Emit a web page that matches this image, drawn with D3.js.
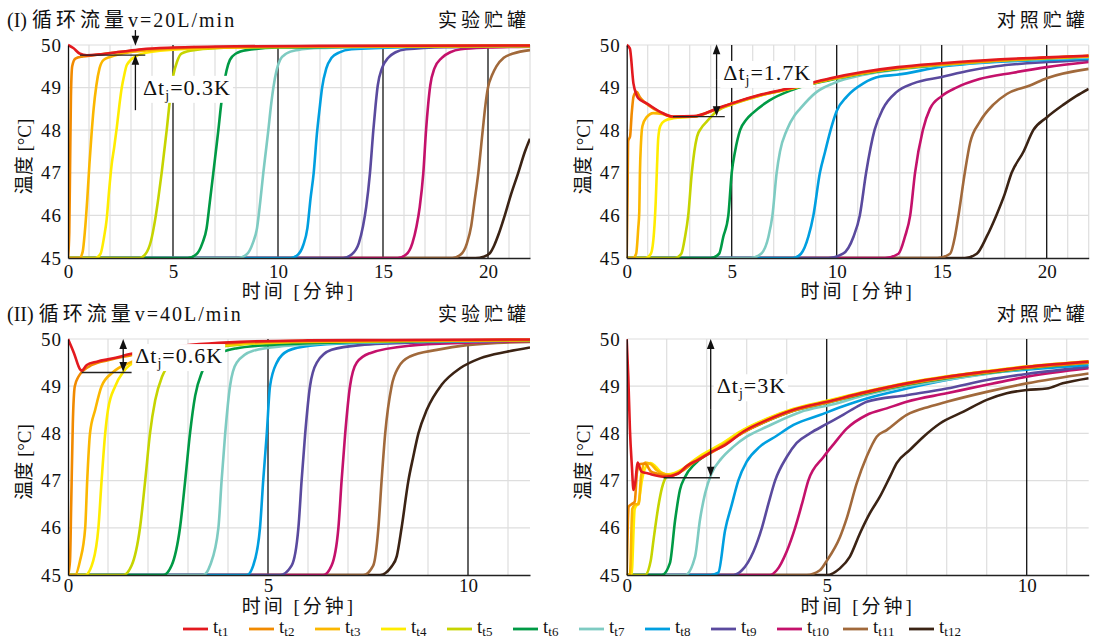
<!DOCTYPE html>
<html>
<head>
<meta charset="utf-8">
<script src="https://cdn.jsdelivr.net/npm/d3@7/dist/d3.min.js"></script>
<style>
body { margin: 0; background: #fff; }
svg text { font-family: "Liberation Serif", "DejaVu Serif", "Times New Roman", serif, "Noto Sans CJK SC"; fill: #111; }
</style>
</head>
<body>
<svg id="chart" width="1094" height="639"></svg>
<script>
// series names + colours (legend order)
const seriesNames = ["t1", "t2", "t3", "t4", "t5", "t6", "t7", "t8", "t9", "t10", "t11", "t12"]
const seriesColors = ["#e3191f", "#f18a00", "#fbb700", "#ffec00", "#c6d400", "#009a45", "#7ecbc2",
    "#009fe0", "#5a4a9e", "#c4116b", "#a1693b", "#3b2314"]

const yTickValues = [45, 46, 47, 48, 49, 50]
const xTicksLong = [0, 5, 10, 15, 20]
const xTicksShort = [0, 5, 10]

// (I) v=20L/min, experiment tank  [minute, degC]
const expTank20 = [
    [[0,50],[0.25,49.93],[0.55,49.8],[0.9,49.76],[1.5,49.78],[2.5,49.84],[3.5,49.9],[5,49.94],[8,49.97],[12,49.98],[22,49.99]],
    [[0,45],[0.06,45.6],[0.1,47.2],[0.14,48.8],[0.2,49.5],[0.35,49.68],[0.7,49.73],[1.2,49.76],[2,49.81],[3.5,49.89],[6,49.94],[12,49.97],[22,49.98]],
    [[0,45],[0.55,45],[0.7,45.15],[0.8,45.6],[0.92,46.4],[1.02,47.2],[1.12,47.9],[1.22,48.5],[1.35,49.05],[1.5,49.45],[1.7,49.65],[2,49.72],[2.6,49.8],[4,49.88],[7,49.94],[12,49.97],[22,49.98]],
    [[0,45],[1.3,45],[1.55,45.1],[1.72,45.5],[1.84,45.9],[1.96,46.6],[2.08,47.2],[2.2,47.6],[2.32,48.05],[2.45,48.6],[2.56,49],[2.68,49.3],[2.8,49.53],[3.2,49.73],[4,49.84],[6,49.92],[10,49.96],[22,49.98]],
    [[0,45],[3.4,45],[3.7,45.1],[3.95,45.4],[4.15,45.9],[4.3,46.4],[4.46,47],[4.58,47.5],[4.7,48],[4.85,48.7],[5.02,49.3],[5.2,49.62],[5.4,49.8],[6,49.88],[8,49.94],[12,49.96],[22,49.98]],
    [[0,45],[5.7,45],[6.1,45.08],[6.4,45.35],[6.6,45.7],[6.75,46.3],[6.92,47],[7.04,47.5],[7.16,48],[7.28,48.55],[7.4,49],[7.55,49.4],[7.71,49.65],[8,49.8],[8.5,49.88],[10,49.94],[14,49.96],[22,49.98]],
    [[0,45],[8.1,45],[8.5,45.08],[8.8,45.35],[9,45.7],[9.15,46.3],[9.3,47],[9.42,47.5],[9.54,48],[9.66,48.55],[9.78,49],[9.93,49.4],[10.1,49.65],[10.4,49.8],[10.9,49.88],[12,49.93],[16,49.96],[22,49.98]],
    [[0,45],[10.6,45],[10.95,45.08],[11.2,45.3],[11.4,45.7],[11.55,46.4],[11.7,47],[11.85,47.9],[11.98,48.5],[12.1,49],[12.3,49.45],[12.55,49.7],[12.9,49.82],[13.5,49.9],[16,49.95],[22,49.98]],
    [[0,45],[13.1,45],[13.5,45.08],[13.85,45.35],[14.05,45.75],[14.2,46.2],[14.38,47],[14.54,48],[14.65,48.6],[14.75,49.05],[14.95,49.45],[15.25,49.7],[15.6,49.83],[16.1,49.9],[18,49.95],[22,49.97]],
    [[0,45],[15.7,45],[16.1,45.08],[16.4,45.35],[16.6,45.75],[16.75,46.2],[16.92,47],[17.05,48],[17.15,48.6],[17.25,49.05],[17.45,49.45],[17.8,49.7],[18.2,49.83],[18.7,49.9],[20,49.94],[22,49.96]],
    [[0,45],[18.3,45],[18.7,45.08],[19,45.35],[19.2,45.75],[19.35,46.3],[19.54,47],[19.75,48],[19.88,48.6],[20,49],[20.2,49.3],[20.4,49.5],[20.75,49.7],[21.2,49.8],[22,49.88]],
    [[0,45],[19.4,45],[19.8,45.03],[20.1,45.12],[20.3,45.3],[20.5,45.55],[20.8,46],[21.1,46.5],[21.44,47],[21.76,47.5],[22,47.8]]
]

// (I) v=20L/min, control tank
const refTank20 = [
    [[0,50],[0.15,49.92],[0.32,49.1],[0.45,48.85],[0.55,48.75],[0.95,48.63],[1.6,48.43],[2.2,48.32],[3.2,48.33],[4.3,48.51],[5,48.63],[6.35,48.83],[7.9,49],[9.7,49.22],[11.3,49.37],[12.9,49.48],[15,49.57],[17.6,49.66],[20,49.71],[22,49.75]],
    [[0,45],[0.04,46.5],[0.07,47.75],[0.16,47.85],[0.24,48.4],[0.33,48.8],[0.48,48.9],[0.62,48.78],[0.8,48.68],[1,48.6],[1.6,48.42],[2.2,48.31],[3.2,48.32],[4.3,48.5],[5,48.62],[6.35,48.82],[7.9,48.99],[9.7,49.2],[11.3,49.35],[12.9,49.46],[15,49.55],[17.6,49.64],[20,49.7],[22,49.74]],
    [[0,45],[0.3,45],[0.45,45.1],[0.55,45.7],[0.6,46.1],[0.63,47],[0.68,47.7],[0.75,48.1],[0.94,48.3],[1.27,48.4],[1.7,48.38],[2.2,48.31],[3.2,48.32],[4.3,48.5],[5,48.62],[6.35,48.82],[7.9,48.99],[9.7,49.2],[11.3,49.35],[12.9,49.46],[15,49.55],[17.6,49.64],[20,49.7],[22,49.74]],
    [[0,45],[0.9,45],[1.15,45.1],[1.3,45.6],[1.38,46.3],[1.44,47.1],[1.5,47.8],[1.6,48.1],[1.8,48.22],[2.22,48.28],[3.2,48.32],[4.3,48.5],[5,48.62],[6.35,48.82],[7.9,48.99],[9.7,49.2],[11.3,49.35],[12.9,49.46],[15,49.55],[17.6,49.64],[20,49.7],[22,49.74]],
    [[0,45],[2.3,45],[2.6,45.1],[2.78,45.5],[2.93,46],[3.1,47],[3.22,47.5],[3.35,47.85],[3.55,48.05],[3.81,48.2],[4.3,48.45],[5,48.6],[6.35,48.81],[7.9,48.98],[9.7,49.19],[11.3,49.34],[12.9,49.45],[15,49.54],[17.6,49.63],[20,49.69],[22,49.73]],
    [[0,45],[4,45],[4.4,45.1],[4.6,45.5],[4.84,46],[5,47],[5.16,47.5],[5.4,48],[5.7,48.25],[6,48.4],[6.8,48.7],[7.9,48.95],[9.7,49.18],[11.3,49.33],[12.9,49.44],[15,49.54],[17.6,49.63],[20,49.69],[22,49.73]],
    [[0,45],[5.9,45],[6.4,45.1],[6.75,45.5],[6.94,46],[7.14,47],[7.3,47.5],[7.62,48],[8,48.35],[8.25,48.5],[9.05,48.9],[9.84,49.1],[11.3,49.3],[12.9,49.42],[15,49.52],[17.6,49.62],[20,49.67],[22,49.71]],
    [[0,45],[7.9,45],[8.3,45.1],[8.65,45.5],[8.89,46],[9.2,47],[9.45,47.5],[9.68,47.95],[10,48.45],[10.48,48.79],[11.27,49.1],[12.06,49.26],[12.86,49.3],[15,49.49],[17.6,49.6],[20,49.65],[22,49.68]],
    [[0,45],[9.6,45],[10.3,45.1],[10.8,45.5],[11.1,46],[11.4,47],[11.8,48],[12.2,48.5],[12.86,48.9],[13.65,49.1],[15,49.25],[16.35,49.4],[17.6,49.5],[20,49.6],[22,49.65]],
    [[0,45],[12.3,45],[12.94,45.1],[13.25,45.5],[13.5,46],[13.73,47],[14.1,48],[14.44,48.5],[15,48.8],[15.7,49],[16.8,49.2],[18.4,49.35],[20,49.48],[22,49.6]],
    [[0,45],[14.8,45],[15.4,45.1],[15.63,45.5],[15.8,46],[16.1,47],[16.35,47.7],[16.82,48.2],[17.46,48.6],[18.1,48.85],[19.2,49.05],[20,49.22],[22,49.44]],
    [[0,45],[16.1,45],[16.67,45.1],[17.14,45.5],[17.6,46],[18,46.5],[18.33,47],[18.9,47.5],[19.36,48],[20,48.3],[20.8,48.6],[21.4,48.8],[22,48.97]]
]

// (II) v=40L/min, experiment tank
const expTank40 = [
    [[0,50],[0.15,49.7],[0.3,49.36],[0.34,49.33],[0.47,49.45],[0.72,49.52],[1.13,49.59],[1.55,49.68],[2.5,49.82],[4.3,49.94],[6,49.97],[8,49.98],[11.55,49.99]],
    [[0,45],[0.05,45.3],[0.08,46.5],[0.12,48.2],[0.17,49],[0.26,49.2],[0.38,49.33],[0.6,49.45],[1,49.55],[1.55,49.65],[2.5,49.8],[4.3,49.92],[6,49.96],[11.55,49.98]],
    [[0,45],[0.18,45],[0.3,45.3],[0.43,46],[0.48,47],[0.55,48],[0.68,48.5],[0.84,49],[1.13,49.3],[1.55,49.5],[2.5,49.75],[4.3,49.91],[6,49.95],[11.55,49.98]],
    [[0,45],[0.43,45],[0.63,45.3],[0.76,46],[0.84,47],[0.93,48],[1,48.5],[1.18,49],[1.38,49.3],[1.55,49.45],[2.5,49.72],[4.3,49.9],[6,49.95],[11.55,49.98]],
    [[0,45],[1.38,45],[1.59,45.2],[1.8,46],[1.93,47],[2.05,48],[2.18,48.7],[2.35,49.2],[2.6,49.5],[3.2,49.72],[4.3,49.88],[6,49.94],[11.55,49.98]],
    [[0,45],[2.38,45],[2.59,45.2],[2.8,46],[2.93,47],[3.05,48],[3.18,48.8],[3.35,49.3],[3.6,49.6],[4.2,49.8],[5,49.87],[7,49.93],[11.55,49.97]],
    [[0,45],[3.38,45],[3.55,45.2],[3.76,46],[3.84,47],[3.93,48],[4.05,49],[4.22,49.5],[4.63,49.75],[5.4,49.85],[7,49.92],[9,49.95],[11.55,49.97]],
    [[0,45],[4.47,45],[4.63,45.2],[4.8,46],[4.88,47],[4.97,48],[5.05,49],[5.22,49.5],[5.5,49.75],[6.05,49.86],[7.3,49.92],[9,49.95],[11.55,49.97]],
    [[0,45],[5.3,45],[5.59,45.2],[5.76,46],[5.84,47],[5.93,48],[6.05,49],[6.22,49.5],[6.59,49.77],[7.3,49.87],[9,49.93],[11.55,49.97]],
    [[0,45],[6.38,45],[6.59,45.2],[6.76,46],[6.84,47],[6.93,48],[7.05,49],[7.22,49.5],[7.55,49.7],[8.55,49.86],[10,49.92],[11.55,49.96]],
    [[0,45],[7.38,45],[7.63,45.2],[7.76,46],[7.84,47],[7.93,48],[8.09,49],[8.26,49.4],[8.55,49.63],[9.22,49.77],[9.97,49.87],[11.55,49.94]],
    [[0,45],[7.8,45],[8.09,45.18],[8.22,45.4],[8.34,46],[8.51,47],[8.63,47.5],[8.76,48],[8.97,48.5],[9.34,49.03],[9.8,49.38],[10.3,49.59],[10.97,49.73],[11.55,49.82]]
]

// (II) v=40L/min, control tank
const refTank40 = [
    [[0,50],[0.04,49.2],[0.08,48.1],[0.13,47.3],[0.17,46.8],[0.22,47],[0.27,47.38],[0.37,47.19],[0.54,47.15],[0.96,47.08],[1.29,47.15],[1.5,47.31],[1.79,47.44],[2.12,47.61],[2.46,47.75],[2.92,48.04],[3.5,48.28],[4.17,48.5],[5,48.67],[6,48.88],[7,49.06],[8,49.2],[9,49.31],[10,49.41],[11.55,49.52]],
    [[0,45],[0.05,46.45],[0.12,46.5],[0.2,46.55],[0.26,47.2],[0.34,47.35],[0.46,47.36],[0.6,47.2],[0.75,47.15],[1.1,47.1],[1.42,47.22],[1.63,47.36],[1.83,47.46],[2.33,47.7],[2.92,48.02],[3.5,48.26],[4.17,48.48],[5,48.65],[6,48.86],[7,49.04],[8,49.18],[9,49.29],[10,49.39],[11.55,49.5]],
    [[0,45],[0.08,45],[0.14,46.4],[0.22,46.5],[0.3,46.5],[0.36,47.1],[0.46,47.38],[0.6,47.35],[0.75,47.22],[0.9,47.15],[1.1,47.12],[1.42,47.24],[1.63,47.38],[1.83,47.48],[2.33,47.72],[2.92,48.03],[3.5,48.27],[4.17,48.49],[5,48.66],[6,48.87],[7,49.05],[8,49.19],[9,49.3],[10,49.4],[11.55,49.51]],
    [[0,45],[0.12,45],[0.2,46.4],[0.3,46.55],[0.38,47],[0.48,47.3],[0.6,47.37],[0.72,47.3],[0.85,47.18],[1,47.13],[1.42,47.26],[1.63,47.4],[1.83,47.52],[2.33,47.76],[2.92,48.08],[3.5,48.31],[4.17,48.52],[5,48.69],[6,48.89],[7,49.07],[8,49.21],[9,49.32],[10,49.42],[11.55,49.53]],
    [[0,45],[0.46,45],[0.6,45.3],[0.67,45.74],[0.79,46.45],[0.88,46.84],[1,47.08],[1.2,47.15],[1.42,47.24],[1.63,47.38],[1.83,47.5],[2.33,47.74],[2.92,48.07],[3.5,48.3],[4.17,48.51],[5,48.68],[6,48.88],[7,49.06],[8,49.2],[9,49.31],[10,49.41],[11.55,49.52]],
    [[0,45],[0.88,45],[1.08,45.25],[1.21,46.16],[1.33,46.8],[1.46,47.08],[1.7,47.35],[2.0,47.55],[2.33,47.72],[2.92,48.03],[3.5,48.26],[4.17,48.48],[5,48.65],[6,48.85],[7,49.03],[8,49.17],[9,49.28],[10,49.38],[11.55,49.5]],
    [[0,45],[1.46,45],[1.71,45.39],[1.83,46.16],[1.96,46.73],[2.12,47.15],[2.37,47.47],[2.67,47.72],[3,47.93],[3.5,48.14],[4.33,48.45],[5.17,48.62],[6,48.82],[7,49],[8,49.14],[9,49.26],[10,49.37],[11.55,49.49]],
    [[0,45],[2.1,45],[2.29,45.05],[2.46,45.95],[2.63,46.5],[2.79,47],[3,47.4],[3.33,47.72],[3.75,47.95],[4.17,48.18],[4.83,48.39],[5.5,48.6],[6,48.74],[7,48.95],[8,49.13],[9,49.27],[10,49.35],[11.55,49.45]],
    [[0,45],[2.67,45],[2.88,45.1],[3.17,45.5],[3.38,46],[3.54,46.5],[3.71,47],[4,47.5],[4.25,47.8],[4.58,48],[5,48.2],[5.42,48.4],[5.83,48.6],[6,48.67],[7,48.81],[8,48.95],[9,49.13],[10,49.26],[11.55,49.41]],
    [[0,45],[3.58,45],[3.75,45.1],[4,45.5],[4.21,46],[4.38,46.5],[4.54,47],[4.92,47.5],[5.2,47.8],[5.5,48.1],[6,48.39],[6.5,48.53],[7,48.67],[8,48.85],[9,49.03],[10,49.2],[11.55,49.38]],
    [[0,45],[4.5,45],[4.83,45.1],[5,45.3],[5.33,45.8],[5.5,46.2],[5.75,46.94],[6,47.51],[6.25,47.93],[6.5,48.07],[7,48.39],[7.58,48.57],[8,48.67],[9,48.88],[10,49.06],[11.55,49.27]],
    [[0,45],[5,45],[5.33,45.14],[5.58,45.39],[5.83,45.88],[6.08,46.31],[6.33,46.66],[6.58,47.08],[6.75,47.37],[7.08,47.65],[7.42,47.93],[7.83,48.21],[8.42,48.46],[9,48.71],[9.5,48.85],[10,48.92],[10.5,48.95],[10.9,49.06],[11.55,49.17]]
]

// delta-t annotations: arrows [t, fromT, toT], hline [T, tFrom, tTo], label [t, T, text]
const noteExp20 = {arrows: [[3.21, 50.35, 49.98], [3.21, 48.47, 49.77]], hline: [49.76, 0.57, 3.68], label: [3.57, 48.83, "=0.3K"]}
const noteRef20 = {arrows: [[4.28, 49.2, 50.02], [4.28, 49.2, 48.33]], hline: [48.32, 2.2, 4.67], label: [4.6, 49.18, "=1.7K"]}
const noteExp40 = {arrows: [[1.38, 49.65, 50.0], [1.38, 49.65, 49.3]], hline: [49.29, 0.34, 1.59], label: [1.68, 49.49, "=0.6K"]}
const noteRef40 = {arrows: [[2.1, 48.5, 50.0], [2.1, 48.5, 47.08]], hline: [47.06, 0.92, 2.33], label: [2.25, 48.85, "=3K"]}

const svg = d3.select("#chart")
const plotWidth = 462
const serif = '"Liberation Serif", "DejaVu Serif", serif'
const cjk = '"Liberation Serif", "Noto Sans CJK SC", serif'

const panels = [
    {data: expTank20, note: noteExp20, left: 68, top: 45, bottom: 258, xMax: 22, ticks: xTicksLong,
        title: ["(I) ", "循环流量", "v=20L/min"], tank: "实验贮罐", xlab: 40, tickPad: 7},
    {data: refTank20, note: noteRef20, left: 626.7, top: 45, bottom: 258, xMax: 22, ticks: xTicksLong,
        title: null, tank: "对照贮罐", xlab: 40, tickPad: 7},
    {data: expTank40, note: noteExp40, left: 68, top: 339, bottom: 575, xMax: 11.55, ticks: xTicksShort,
        title: ["(II) ", "循环流量", "v=40L/min"], tank: "实验贮罐", xlab: 38, tickPad: 4},
    {data: refTank40, note: noteRef40, left: 626.7, top: 339, bottom: 575, xMax: 11.55, ticks: xTicksShort,
        title: null, tank: "对照贮罐", xlab: 38, tickPad: 4}
]

panels.forEach(function(p, pi) {
    let x = d3.scaleLinear().domain([0, p.xMax]).range([p.left, p.left + plotWidth])
    let y = d3.scaleLinear().domain([45, 50]).range([p.bottom, p.top])
    let g = svg.append("g")

    //light grid, one per minute and per degree
    g.selectAll(".vgrid").data(d3.range(1, Math.floor(p.xMax) + 1).filter(d => p.ticks.indexOf(d) < 0))
        .join("line")
        .attr("x1", d => x(d)).attr("x2", d => x(d))
        .attr("y1", y(45)).attr("y2", y(50))
        .attr("stroke", "#dedede").attr("stroke-width", 1.2)
    g.selectAll(".hgrid").data(yTickValues.filter(d => d > 45))
        .join("line")
        .attr("x1", x(0)).attr("x2", x(p.xMax))
        .attr("y1", d => y(d)).attr("y2", d => y(d))
        .attr("stroke", "#dedede").attr("stroke-width", 1.2)

    //black lines every 5 minutes
    g.selectAll(".vmajor").data(p.ticks.filter(d => d > 0))
        .join("line")
        .attr("x1", d => x(d)).attr("x2", d => x(d))
        .attr("y1", y(45)).attr("y2", y(50))
        .attr("stroke", "#111").attr("stroke-width", 1.3)

    //curves, t1 ends up on top
    let clipId = "clip" + pi
    svg.append("clipPath").attr("id", clipId).append("rect")
        .attr("x", p.left).attr("y", p.top - 3).attr("width", plotWidth).attr("height", p.bottom - p.top + 3)
    let line = d3.line().x(d => x(d[0])).y(d => y(d[1])).curve(d3.curveMonotoneX)
    let order = p.data.map((d, i) => i).reverse()
    g.append("g").attr("clip-path", "url(#" + clipId + ")")
        .selectAll("path").data(order)
        .join("path")
        .attr("d", i => line(p.data[i]))
        .attr("fill", "none")
        .attr("stroke", i => seriesColors[i])
        .attr("stroke-width", 2.6)
        .attr("stroke-linejoin", "round")

    //axes
    let xAxis = d3.axisBottom(x).tickValues(p.ticks).tickSize(0).tickPadding(p.tickPad).tickSizeOuter(0)
    let gx = g.append("g").attr("transform", "translate(0," + y(45) + ")").call(xAxis)
    gx.attr("font-family", null)
    gx.select(".domain").attr("stroke", "#222").attr("stroke-width", 1.6)
    gx.selectAll("text").style("font-family", serif).style("font-size", "19px").attr("fill", "#111")
    let yAxis = d3.axisLeft(y).tickValues(yTickValues).tickFormat(d3.format("d")).tickSize(0).tickPadding(6).tickSizeOuter(0)
    let gy = g.append("g").attr("transform", "translate(" + x(0) + ",0)").call(yAxis)
    gy.attr("font-family", null)
    gy.select(".domain").attr("stroke", "#111").attr("stroke-width", 1.3)
    gy.selectAll("text").style("font-family", serif).style("font-size", "19px").style("letter-spacing", "1px").attr("fill", "#111")

    //axis titles
    g.append("text")
        .attr("x", p.left + plotWidth / 2).attr("y", p.bottom + p.xlab)
        .attr("text-anchor", "middle").style("font-family", cjk).style("font-size", "19px").style("letter-spacing", "3px")
        .text("时间 [分钟]")
    g.append("text")
        .attr("transform", "translate(" + (p.left - 37) + "," + ((p.top + p.bottom) / 2 + 5) + ") rotate(-90)")
        .attr("text-anchor", "middle").style("font-family", cjk).style("font-size", "19px")
        .text("温度 [°C]")

    //panel titles
    if (p.title) {
        let tt = g.append("text")
            .attr("x", 7).attr("y", p.top - 18)
            .style("font-family", cjk).style("font-size", "20px")
        tt.append("tspan").text(p.title[0])
        tt.append("tspan").style("letter-spacing", "4px").text(p.title[1])
        tt.append("tspan").style("letter-spacing", "2px").text(p.title[2])
    }
    g.append("text")
        .attr("x", p.left + plotWidth).attr("y", p.top - 18)
        .attr("text-anchor", "end").style("font-family", cjk).style("font-size", "19px").style("letter-spacing", "4px")
        .text(p.tank)

    //delta-t annotation
    let n = p.note
    g.append("line")
        .attr("x1", x(n.hline[1])).attr("x2", x(n.hline[2]))
        .attr("y1", y(n.hline[0])).attr("y2", y(n.hline[0]))
        .attr("stroke", "#222").attr("stroke-width", 1.3)
    n.arrows.forEach(function(a) {
        let ax = x(a[0]), y1 = y(a[1]), y2 = y(a[2])
        let dir = y2 > y1 ? 1 : -1
        g.append("line")
            .attr("x1", ax).attr("x2", ax).attr("y1", y1).attr("y2", y2 - dir * 6)
            .attr("stroke", "#111").attr("stroke-width", 1.3)
        g.append("path")
            .attr("d", "M" + ax + "," + y2 + "L" + (ax - 3.8) + "," + (y2 - dir * 10) + "L" + (ax + 3.8) + "," + (y2 - dir * 10) + "Z")
            .attr("fill", "#111")
    })
    let box = g.append("rect").attr("fill", "#fff")
    let lab = g.append("text")
        .attr("x", x(n.label[0])).attr("y", y(n.label[1]))
        .style("font-family", serif).style("font-size", "22px").style("letter-spacing", "1px")
    lab.append("tspan").text("Δt")
    lab.append("tspan").attr("dy", 5).style("font-size", "14px").text("j")
    lab.append("tspan").attr("dy", -5).text(n.label[2])
    let bb = lab.node().getBBox()
    box.attr("x", bb.x - 3).attr("y", bb.y + 1).attr("width", bb.width + 5).attr("height", bb.height - 1)
})

//legend
let legend = svg.append("g")
seriesNames.forEach(function(name, i) {
    let lx = 183 + 66 * i
    legend.append("line")
        .attr("x1", lx).attr("x2", lx + 25).attr("y1", 629).attr("y2", 629)
        .attr("stroke", seriesColors[i]).attr("stroke-width", 2.8)
    let t = legend.append("text").attr("x", lx + 30).attr("y", 633).style("font-family", serif).style("font-size", "19px")
    t.append("tspan").text("t")
    t.append("tspan").attr("dy", 3).style("font-size", "13px").text(name)
})
</script>
</body>
</html>
